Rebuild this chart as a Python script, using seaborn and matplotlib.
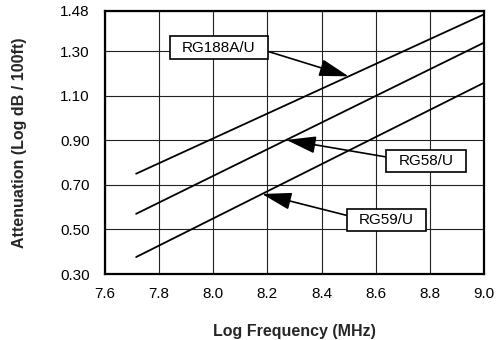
import numpy as np
import pandas as pd
import matplotlib
matplotlib.use("Agg")
import matplotlib.pyplot as plt
from matplotlib.path import Path
import seaborn as sns

# ---- data ----
cables = ["RG188A/U", "RG58/U", "RG59/U"]
log_freq = [7.715, 9.0]
rg188_atten = [0.75, 1.465]
rg58_atten = [0.57, 1.338]
rg59_atten = [0.376, 1.158]
x_ticks = [7.6, 7.8, 8.0, 8.2, 8.4, 8.6, 8.8, 9.0]
y_ticks = [0.30, 0.50, 0.70, 0.90, 1.10, 1.30, 1.48]

series = {"RG188A/U": rg188_atten, "RG58/U": rg58_atten, "RG59/U": rg59_atten}
df = pd.DataFrame(
    [(c, f, v) for c in cables for f, v in zip(log_freq, series[c])],
    columns=["cable", "freq", "atten"],
)

sns.set_theme(style="white")
plt.rcParams["font.family"] = ["Liberation Sans", "DejaVu Sans"]

fig = plt.figure(figsize=(4.97, 3.40), dpi=100)
ax = fig.add_axes([105 / 497, 1 - 274 / 340, 379 / 497, 263 / 340])

sns.lineplot(data=df, x="freq", y="atten", hue="cable", palette=["black"] * 3,
             legend=False, ax=ax, linewidth=1.3)

ax.set_xlim(7.6, 9.0)
ax.set_ylim(0.30, 1.48)
ax.set_xticks(x_ticks)
ax.set_yticks(y_ticks)
ax.set_xticklabels([f"{t:.1f}" for t in x_ticks])
ax.set_yticklabels([f"{t:.2f}" for t in y_ticks])
ax.tick_params(axis="both", length=0, labelsize=11, colors="black")
ax.tick_params(axis="y", pad=11)
ax.tick_params(axis="x", pad=9)
ax.grid(True, color="#222222", linewidth=0.8)
for s in ax.spines.values():
    s.set_color("black")
    s.set_linewidth(1.6)
ax.set_axisbelow(True)

ax.set_xlabel("Log Frequency (MHz)", fontsize=11.5, fontweight="bold", labelpad=17)
ax.set_ylabel("Attenuation (Log dB / 100ft)", fontsize=11.5, fontweight="bold", labelpad=24)


def rect_box(x0, y0, width, height, mutation_size):
    px = 0.8 * mutation_size
    py = 0.27 * mutation_size
    x0, y0 = x0 - px, y0 - py
    x1, y1 = x0 + width + 2 * px, y0 + height + 2 * py
    return Path([(x0, y0), (x1, y0), (x1, y1), (x0, y1), (x0, y0)], closed=True)


labels = [
    # text, series, text pos (data), x of arrow tip, relpos
    ("RG188A/U", rg188_atten, (8.02, 1.316), 8.50, (1.0, 0.5)),
    ("RG58/U", rg58_atten, (8.786, 0.808), 8.27, (0.0, 0.62)),
    ("RG59/U", rg59_atten, (8.639, 0.543), 8.18, (0.0, 0.6)),
]
for text, vals, tpos, tipx, rel in labels:
    tipy = float(np.interp(tipx, log_freq, vals))
    ax.annotate(
        text, xy=(tipx, tipy), xytext=tpos, textcoords="data",
        ha="center", va="center", fontsize=11, color="black",
        bbox=dict(boxstyle=rect_box, fc="white", ec="black", lw=1.2),
        arrowprops=dict(arrowstyle="-|>,head_length=1.3,head_width=0.38",
                        mutation_scale=14, color="black", lw=1.2,
                        shrinkA=0, shrinkB=0, relpos=rel),
    )

fig.savefig("out.png", dpi=100)
